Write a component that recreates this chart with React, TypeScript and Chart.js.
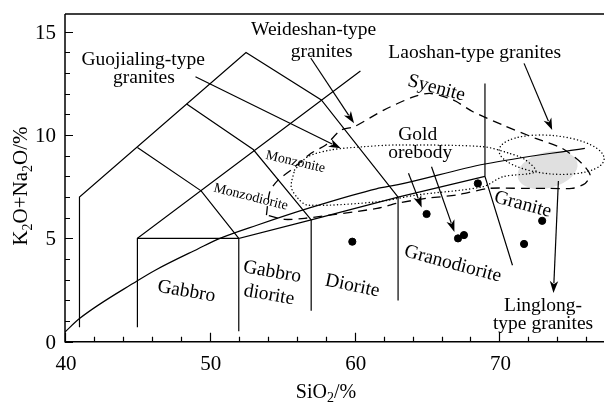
import React, { useEffect, useRef } from "react";
import { Chart, registerables } from "chart.js";

Chart.register(...registerables);

type Pt = [number, number];

// Axis ranges and ticks (SiO2 wt% vs total alkalis wt%)
const X_MIN = 40;
const X_MAX = 77.22;
const Y_MIN = 0;
const Y_MAX = 15.86;
const X_TICK_LABELS = [40, 50, 60, 70];
const X_MINOR_TICKS = [42, 44, 46, 48, 52, 54, 56, 58, 62, 64, 66, 68, 72, 74, 76];
const Y_TICK_LABELS = [0, 5, 10, 15];
const Y_MINOR_TICKS = [1, 2, 3, 4, 6, 7, 8, 9, 11, 12, 13, 14];

// Classification field boundaries (solid)
const OUTER_BOUNDARY: Pt[] = [[41, 0.7], [41, 7], [52.5, 14], [57.7, 11.7], [63, 7]];
const GABBRO_RIDGE: Pt[] = [[45, 0.7], [45, 5], [60.4, 13.1]];
const GABBRO_TOP: Pt[] = [[45, 5], [52, 5]];
const SUBALKALINE_TOP: Pt[] = [[52, 0.5], [52, 5], [57, 5.9], [63, 7], [69, 8]];
const INNER_CHEVRON: Pt[] = [[45, 9.4], [49.4, 7.3], [52, 5]];
const MIDDLE_CHEVRON: Pt[] = [[48.4, 11.5], [53, 9.3], [57, 5.9]];
const DIORITE_LEFT: Pt[] = [[57, 1.5], [57, 5.9]];
const DIORITE_RIGHT: Pt[] = [[63, 2], [63, 7]];
const GRANITE_DIVIDE: Pt[] = [[69, 12.5], [69, 8], [70.9, 3.7]];

// Alkaline / subalkaline dividing curve
const DIVIDE_SI = [40, 41, 45, 46.2, 49.2, 50.7, 53.3, 57, 61.5, 63, 69, 75.9];
const DIVIDE_ALK = [0.47, 1.12, 2.95, 3.45, 4.5, 5.0, 5.65, 6.5, 7.4, 7.6, 8.6, 9.36];

// Dashed field outline
const DASHED_FIELD: Pt[] = [
  [53.91, 6.13], [54.14, 7.26], [54.71, 7.82], [55.62, 8.31], [56.99, 9.12], [58.01, 9.52],
  [59.04, 10.24], [59.96, 10.4], [62.01, 11.21], [64.06, 11.85], [65.2, 12.02], [66.8, 11.7],
  [68.17, 11.13], [70.22, 10.49], [72.5, 9.84], [74.32, 9.36], [75.69, 8.63], [76.26, 8.07],
  [75.92, 7.66], [75.0, 7.42], [73.41, 7.42], [71.59, 7.42], [69.3, 7.42], [67.02, 7.1],
  [64.97, 6.94], [62.92, 6.7], [61.55, 6.45], [56.54, 5.97], [55.17, 5.92], [53.91, 6.13],
];

// Gold orebody (dotted outline)
const GOLD_OREBODY: Pt[] = [
  [55.85, 8.31], [56.76, 8.95], [58.36, 9.28], [60.64, 9.44], [62.92, 9.52], [68.85, 9.44],
  [70.67, 9.12], [71.8, 8.8], [72.5, 8.23], [70.22, 7.98], [68.85, 7.5], [64.29, 7.1],
  [61.55, 6.77], [56.76, 6.61], [56.08, 6.94], [55.62, 7.5], [55.85, 8.31],
];

// Sample analyses
const SAMPLE_SI = [59.84, 64.97, 67.14, 67.55, 68.51, 71.7, 72.95];
const SAMPLE_ALK = [4.84, 6.18, 5.0, 5.16, 7.66, 4.73, 5.85];

// Ellipse fields: [centre SiO2, centre alkali, half-width SiO2, half-height alkali, tilt deg]
const LAOSHAN_FIELD = [73.6, 9.05, 3.64, 0.93, 5];
const LINGLONG_FIELD = [73.32, 8.31, 2.12, 0.87, -15];

// Leader arrows: [from SiO2, from alkali, to SiO2, to alkali]
const LEADER_ARROWS: number[][] = [
  [49.01, 12.82, 59.04, 9.36],
  [56.97, 13.73, 59.96, 10.57],
  [71.7, 13.47, 73.64, 10.24],
  [63.72, 8.15, 64.63, 6.49],
  [65.31, 8.47, 66.89, 5.31],
  [74.07, 7.78, 73.73, 2.36],
];

const SERIF = '"Liberation Serif", "Times New Roman", serif';

type Label = { text: string; x: number; y: number; rot: number; size: number };
const FIELD_LABELS: Label[] = [
  { text: "Guojialing-type", x: 45.4, y: 13.66, rot: 0, size: 19.5 },
  { text: "granites", x: 45.45, y: 12.75, rot: 0, size: 19.5 },
  { text: "Weideshan-type", x: 57.17, y: 15.08, rot: 0, size: 19.5 },
  { text: "granites", x: 57.72, y: 14.02, rot: 0, size: 19.5 },
  { text: "Laoshan-type granites", x: 68.29, y: 13.96, rot: 0, size: 19.5 },
  { text: "Syenite", x: 65.65, y: 12.27, rot: 15, size: 19.5 },
  { text: "Gold", x: 64.36, y: 10.0, rot: 0, size: 19.5 },
  { text: "orebody", x: 64.53, y: 9.13, rot: 0, size: 19.5 },
  { text: "Monzonite", x: 55.91, y: 8.7, rot: 13, size: 14 },
  { text: "Monzodiorite", x: 52.83, y: 7.0, rot: 14, size: 14 },
  { text: "Gabbro", x: 48.38, y: 2.43, rot: 10, size: 19.5 },
  { text: "Gabbro", x: 54.3, y: 3.37, rot: 10, size: 19.5 },
  { text: "diorite", x: 54.09, y: 2.26, rot: 10, size: 19.5 },
  { text: "Diorite", x: 59.84, y: 2.7, rot: 12, size: 19.5 },
  { text: "Granodiorite", x: 66.78, y: 3.76, rot: 15, size: 19.5 },
  { text: "Granite", x: 71.61, y: 6.64, rot: 15, size: 19.5 },
  { text: "Linglong-", x: 73.01, y: 1.73, rot: 0, size: 19.5 },
  { text: "type granites", x: 73.01, y: 0.86, rot: 0, size: 19.5 },
];

type Run = [string, boolean];
const X_TITLE: Run[] = [["SiO", false], ["2", true], ["/%", false]];
const Y_TITLE: Run[] = [["K", false], ["2", true], ["O+Na", false], ["2", true], ["O/%", false]];

const toPts = (pts: Pt[]) => pts.map(([x, y]) => ({ x, y }));

function drawRuns(ctx: CanvasRenderingContext2D, runs: Run[], size: number) {
  const subSize = Math.round(size * 0.68);
  let total = 0;
  const widths = runs.map(([t, sub]) => {
    ctx.font = `${sub ? subSize : size}px ${SERIF}`;
    const w = ctx.measureText(t).width;
    total += w;
    return w;
  });
  let x = -total / 2;
  runs.forEach(([t, sub], i) => {
    ctx.font = `${sub ? subSize : size}px ${SERIF}`;
    ctx.fillText(t, x, sub ? size * 0.22 : 0);
    x += widths[i];
  });
}

function drawArrow(ctx: CanvasRenderingContext2D, x1: number, y1: number, x2: number, y2: number) {
  const ang = Math.atan2(y2 - y1, x2 - x1);
  const len = 12;
  const half = 4.2;
  ctx.beginPath();
  ctx.moveTo(x1, y1);
  ctx.lineTo(x2 - Math.cos(ang) * len * 0.8, y2 - Math.sin(ang) * len * 0.8);
  ctx.stroke();
  ctx.save();
  ctx.translate(x2, y2);
  ctx.rotate(ang);
  ctx.beginPath();
  ctx.moveTo(0, 0);
  ctx.lineTo(-len, -half);
  ctx.lineTo(-len * 0.72, 0);
  ctx.lineTo(-len, half);
  ctx.closePath();
  ctx.fill();
  ctx.restore();
}

function ellipsePath(chart: any, field: number[]) {
  const xs = chart.scales.x;
  const ys = chart.scales.y;
  const [cx, cy, rx, ry, tilt] = field;
  const px = xs.getPixelForValue(cx);
  const py = ys.getPixelForValue(cy);
  const prx = xs.getPixelForValue(cx + rx) - px;
  const pry = py - ys.getPixelForValue(cy + ry);
  const ctx: CanvasRenderingContext2D = chart.ctx;
  ctx.beginPath();
  ctx.ellipse(px, py, prx, pry, (tilt * Math.PI) / 180, 0, Math.PI * 2);
}

const diagramPlugin = {
  id: "tasDiagram",
  beforeDatasetsDraw(chart: any) {
    const ctx: CanvasRenderingContext2D = chart.ctx;
    ctx.save();
    ellipsePath(chart, LINGLONG_FIELD);
    ctx.fillStyle = "#e0e0e0";
    ctx.fill();
    ctx.restore();
  },
  afterDatasetsDraw(chart: any) {
    const ctx: CanvasRenderingContext2D = chart.ctx;
    const xs = chart.scales.x;
    const ys = chart.scales.y;
    const { left, right, top, bottom } = chart.chartArea;

    // Laoshan-type granite field
    ctx.save();
    ctx.strokeStyle = "#000";
    ctx.lineWidth = 1.4;
    ctx.lineCap = "round";
    ctx.setLineDash([0.1, 3.4]);
    ellipsePath(chart, LAOSHAN_FIELD);
    ctx.stroke();
    ctx.restore();

    // leader arrows
    ctx.save();
    ctx.strokeStyle = "#000";
    ctx.fillStyle = "#000";
    ctx.lineWidth = 1.2;
    LEADER_ARROWS.forEach(([a, b, c, d]) => {
      drawArrow(ctx, xs.getPixelForValue(a), ys.getPixelForValue(b), xs.getPixelForValue(c), ys.getPixelForValue(d));
    });
    ctx.restore();

    // frame and inward ticks
    ctx.save();
    ctx.strokeStyle = "#000";
    ctx.lineWidth = 1.5;
    ctx.beginPath();
    ctx.moveTo(left, top);
    ctx.lineTo(right, top);
    ctx.moveTo(left, top);
    ctx.lineTo(left, bottom);
    ctx.lineTo(right, bottom);
    ctx.stroke();
    ctx.lineWidth = 1.2;
    ctx.beginPath();
    X_TICK_LABELS.forEach((v) => {
      const p = Math.round(xs.getPixelForValue(v)) + 0.5;
      ctx.moveTo(p, bottom);
      ctx.lineTo(p, bottom - 9);
    });
    X_MINOR_TICKS.forEach((v) => {
      const p = Math.round(xs.getPixelForValue(v)) + 0.5;
      ctx.moveTo(p, bottom);
      ctx.lineTo(p, bottom - 5);
    });
    Y_TICK_LABELS.forEach((v) => {
      const p = Math.round(ys.getPixelForValue(v)) + 0.5;
      ctx.moveTo(left, p);
      ctx.lineTo(left + 8, p);
    });
    Y_MINOR_TICKS.forEach((v) => {
      const p = Math.round(ys.getPixelForValue(v)) + 0.5;
      ctx.moveTo(left, p);
      ctx.lineTo(left + 5, p);
    });
    ctx.stroke();

    // tick labels
    ctx.fillStyle = "#000";
    ctx.font = `21px ${SERIF}`;
    ctx.textBaseline = "alphabetic";
    ctx.textAlign = "center";
    X_TICK_LABELS.forEach((v) => {
      ctx.fillText(String(v), xs.getPixelForValue(v) + 1, bottom + 28);
    });
    ctx.textAlign = "right";
    Y_TICK_LABELS.forEach((v) => {
      ctx.fillText(String(v), left - 9, ys.getPixelForValue(v) + 7);
    });

    // axis titles
    ctx.textAlign = "left";
    ctx.save();
    ctx.translate(326, bottom + 56);
    drawRuns(ctx, X_TITLE, 20);
    ctx.restore();
    ctx.save();
    ctx.translate(27, 186);
    ctx.rotate(-Math.PI / 2);
    drawRuns(ctx, Y_TITLE, 21);
    ctx.restore();

    // field and group labels
    ctx.textAlign = "center";
    ctx.textBaseline = "middle";
    FIELD_LABELS.forEach((l) => {
      ctx.save();
      ctx.translate(xs.getPixelForValue(l.x), ys.getPixelForValue(l.y));
      ctx.rotate((l.rot * Math.PI) / 180);
      ctx.font = `${l.size}px ${SERIF}`;
      ctx.fillText(l.text, 0, 0);
      ctx.restore();
    });
    ctx.restore();
  },
};

const solid = (data: Pt[]) => ({
  data: toPts(data),
  showLine: true,
  borderColor: "#000",
  borderWidth: 1.2,
  pointRadius: 0,
  tension: 0,
  fill: false,
});

export default function App() {
  const canvasRef = useRef<HTMLCanvasElement | null>(null);

  useEffect(() => {
    if (!canvasRef.current) return;
    const chart = new Chart(canvasRef.current, {
      type: "scatter",
      data: {
        datasets: [
          {
            data: SAMPLE_SI.map((x, i) => ({ x, y: SAMPLE_ALK[i] })),
            pointRadius: 3.6,
            pointBackgroundColor: "#000",
            pointBorderColor: "#000",
            showLine: false,
          },
          solid(OUTER_BOUNDARY),
          solid(GABBRO_RIDGE),
          solid(GABBRO_TOP),
          solid(SUBALKALINE_TOP),
          solid(INNER_CHEVRON),
          solid(MIDDLE_CHEVRON),
          solid(DIORITE_LEFT),
          solid(DIORITE_RIGHT),
          solid(GRANITE_DIVIDE),
          {
            data: DIVIDE_SI.map((x, i) => ({ x, y: DIVIDE_ALK[i] })),
            showLine: true,
            borderColor: "#000",
            borderWidth: 1.2,
            pointRadius: 0,
            cubicInterpolationMode: "monotone",
            fill: false,
          },
          {
            data: toPts(DASHED_FIELD),
            showLine: true,
            borderColor: "#000",
            borderWidth: 1.3,
            borderDash: [9, 6],
            pointRadius: 0,
            tension: 0.25,
            fill: false,
          },
          {
            data: toPts(GOLD_OREBODY),
            showLine: true,
            borderColor: "#000",
            borderWidth: 1.4,
            borderDash: [0.1, 3.4],
            borderCapStyle: "round",
            pointRadius: 0,
            tension: 0.3,
            fill: false,
          },
        ] as any,
      },
      options: {
        animation: false,
        responsive: false,
        devicePixelRatio: 1,
        layout: { padding: { left: 65, top: 14, right: 0, bottom: 62.3 } },
        plugins: { legend: { display: false }, tooltip: { enabled: false } },
        scales: {
          x: { type: "linear", min: X_MIN, max: X_MAX, display: false },
          y: { type: "linear", min: Y_MIN, max: Y_MAX, display: false },
        },
      },
      plugins: [diagramPlugin],
    });
    return () => chart.destroy();
  }, []);

  return (
    <div style={{ position: "fixed", left: 0, top: 0, width: 609, height: 404, background: "#fff" }}>
      <canvas ref={canvasRef} width={609} height={404} />
    </div>
  );
}
